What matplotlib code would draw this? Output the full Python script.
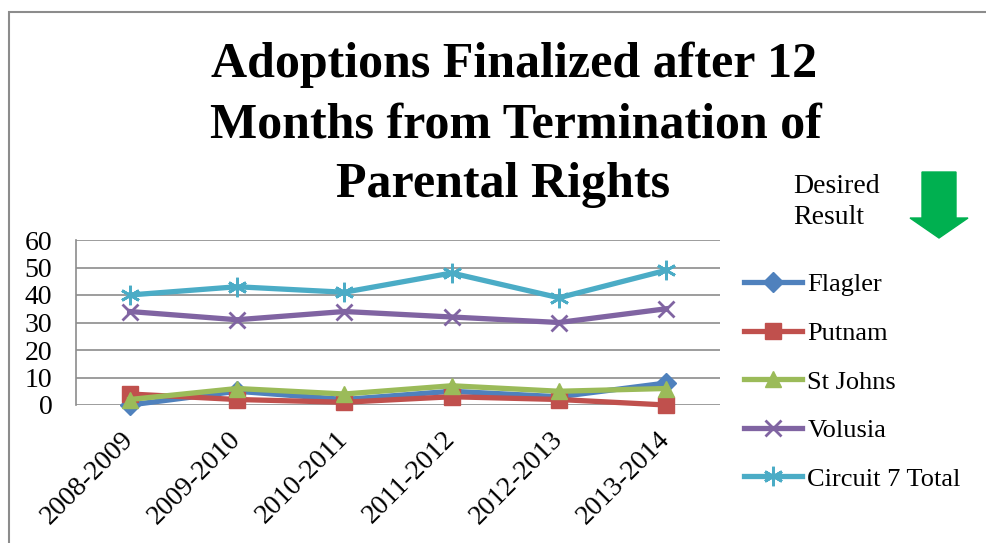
import matplotlib.pyplot as plt
from matplotlib.patches import Rectangle, FancyArrow

years = ['2008-2009', '2009-2010', '2010-2011', '2011-2012', '2012-2013', '2013-2014']
flagler = [0, 5, 2, 5, 3, 8]
putnam = [4, 2, 1, 3, 2, 0]
st_johns = [2, 6, 4, 7, 5, 6]
volusia = [34, 31, 34, 32, 30, 35]
circuit7 = [40, 43, 41, 48, 39, 49]

series = [
    ('Flagler', flagler, '#4F81BD', 'D', 10),
    ('Putnam', putnam, '#C0504D', 's', 11),
    ('St Johns', st_johns, '#9BBB59', '^', 12),
    ('Volusia', volusia, '#8064A2', 'x', 12),
    ('Circuit 7 Total', circuit7, '#4BACC6', (6, 2, 0), 14),
]

plt.rcParams['font.family'] = ['Liberation Serif', 'DejaVu Serif']

fig = plt.figure(figsize=(9.87, 5.43), dpi=100)
W, H = 987, 543
ax = fig.add_axes([76 / W, 1 - 405 / H, (720 - 76) / W, (405 - 240) / H])

xs = range(len(years))
for name, vals, col, mk, ms in series:
    ax.plot(xs, vals, color=col, linewidth=3.8, marker=mk, markersize=ms,
            markeredgewidth=2 if mk in ('x', (6, 2, 0)) else 1,
            markeredgecolor=col, label=name, clip_on=False, zorder=3)

ax.set_xlim(-0.5, 5.5)
ax.set_ylim(0, 60)
ax.set_yticks(range(0, 61, 10))
ax.set_xticks(list(xs))
ax.set_xticklabels(years, rotation=45, ha='right', va='center', rotation_mode='anchor', fontsize=20)
ax.tick_params(axis='y', labelsize=20, length=0, pad=17)
ax.tick_params(axis='x', length=0, pad=22)
ax.grid(axis='y', color='#8c8c8c', linewidth=1.2)
ax.set_axisbelow(True)
for k, s in ax.spines.items():
    s.set_visible(k == 'left')
ax.spines['left'].set_color('#8c8c8c')
ax.spines['left'].set_linewidth(1.2)

fig.legend(loc='upper left', bbox_to_anchor=(744 / W, 1 - 273 / H), frameon=False,
           fontsize=19, handlelength=2.2, labelspacing=0.95, handletextpad=0.2,
           borderpad=0, borderaxespad=0)

fig.text(514 / W, 1 - 65 / H, 'Adoptions Finalized after 12', ha='center', va='center',
         fontsize=36, fontweight='bold')
fig.text(516 / W, 1 - 125 / H, 'Months from Termination of', ha='center', va='center',
         fontsize=36, fontweight='bold')
fig.text(503 / W, 1 - 185 / H, 'Parental Rights', ha='center', va='center',
         fontsize=36, fontweight='bold')

fig.text(793 / W, 1 - 202 / H, 'Desired\nResult', ha='left', va='center',
         fontsize=20, linespacing=1.35)

arrow = FancyArrow(939 / W, 1 - 172 / H, 0, -(238 - 172) / H, width=34 / W,
                   head_width=58 / W, head_length=20 / H, length_includes_head=True,
                   color='#00B050', transform=fig.transFigure)
fig.patches.append(arrow)

border = Rectangle((9 / W, -0.1), 1.2, 1.1 - 12 / H, fill=False, edgecolor='#8c8c8c',
                   linewidth=1.5, transform=fig.transFigure)
fig.patches.append(border)

fig.savefig('out.png', dpi=100)
